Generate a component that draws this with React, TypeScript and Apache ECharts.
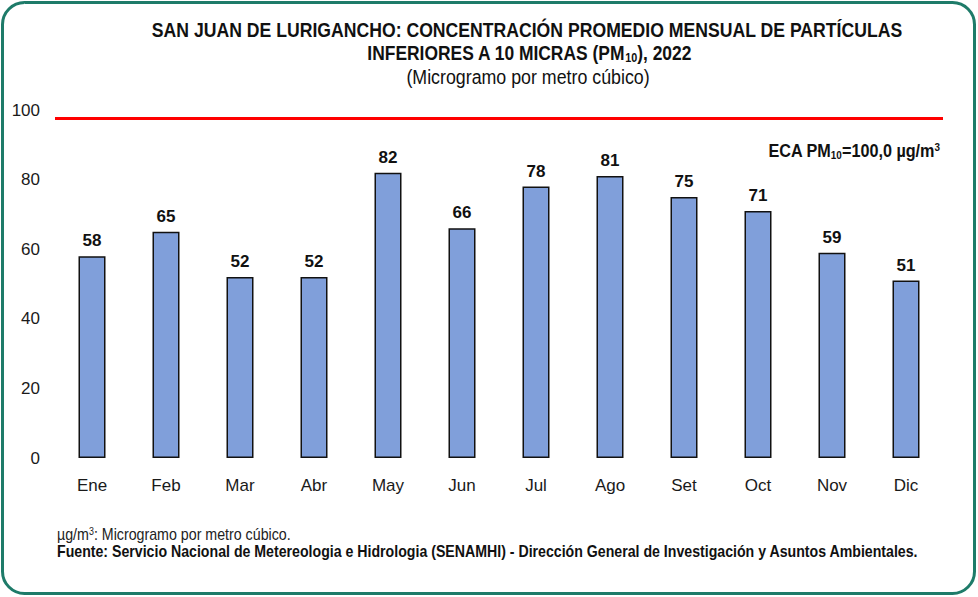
import React, { useEffect, useRef } from "react";
import * as echarts from "echarts";

const months = ["Ene", "Feb", "Mar", "Abr", "May", "Jun", "Jul", "Ago", "Set", "Oct", "Nov", "Dic"];
const pm10 = [58, 65, 52, 52, 82, 66, 78, 81, 75, 71, 59, 51];
const yTicks = [0, 20, 40, 60, 80, 100];
const ecaDrawnLevel = 97.6;

const ARIAL = "'Liberation Sans', Arial, sans-serif";

export default function App() {
  const ref = useRef<HTMLDivElement>(null);
  useEffect(() => {
    const chart = echarts.init(ref.current!, null, { renderer: "svg" });
    chart.setOption({
      animation: false,
      backgroundColor: "#ffffff",
      grid: { left: 55, right: 35, top: 110, bottom: 139 },
      xAxis: {
        type: "category",
        data: months,
        axisLine: { show: false },
        axisTick: { show: false },
        axisLabel: { color: "#1a1a1a", fontSize: 17, fontFamily: ARIAL, margin: 19 },
      },
      yAxis: {
        type: "value",
        min: yTicks[0],
        max: yTicks[yTicks.length - 1],
        interval: 20,
        axisLine: { show: false },
        axisTick: { show: false },
        splitLine: { show: false },
        axisLabel: { color: "#1a1a1a", fontSize: 17, fontFamily: ARIAL, margin: 15 },
      },
      graphic: [
        {
          type: "rect",
          z: -10,
          shape: { x: 2.5, y: 2.5, width: 972, height: 591, r: 22 },
          style: { fill: "#ffffff", stroke: "#1E7B69", lineWidth: 3 },
        },
        {
          type: "text",
          x: 527,
          y: 29,
          scaleX: 0.84,
          style: {
            text: "SAN JUAN DE LURIGANCHO: CONCENTRACIÓN PROMEDIO MENSUAL DE PARTÍCULAS",
            font: `bold 21px ${ARIAL}`,
            fill: "#111",
            textAlign: "center",
            textVerticalAlign: "middle",
          },
        },
        {
          type: "text",
          x: 529,
          y: 53,
          scaleX: 0.83,
          style: {
            text: "{a|INFERIORES A 10 MICRAS (PM}{s|10}{a|), 2022}",
            textAlign: "center",
            textVerticalAlign: "middle",
            rich: {
              a: { font: `bold 21px ${ARIAL}`, fill: "#111" },
              s: { font: `bold 13px ${ARIAL}`, fill: "#111", padding: [10, 0, 0, 0] },
            },
          },
        },
        {
          type: "text",
          x: 528,
          y: 77,
          scaleX: 0.89,
          style: {
            text: "(Microgramo por metro cúbico)",
            font: `20px ${ARIAL}`,
            fill: "#111",
            textAlign: "center",
            textVerticalAlign: "middle",
          },
        },
        {
          type: "text",
          x: 940,
          y: 151,
          scaleX: 0.9,
          style: {
            text: "{a|ECA PM}{s|10}{a|=100,0 µg/m}{p|3}",
            textAlign: "right",
            textVerticalAlign: "middle",
            rich: {
              a: { font: `bold 18px ${ARIAL}`, fill: "#111" },
              s: { font: `bold 11px ${ARIAL}`, fill: "#111", padding: [8, 0, 0, 0] },
              p: { font: `bold 11px ${ARIAL}`, fill: "#111", padding: [0, 0, 8, 0] },
            },
          },
        },
        {
          type: "text",
          x: 57,
          y: 534,
          scaleX: 0.89,
          style: {
            text: "{a|µg/m}{p|3}{a|: Microgramo por metro cúbico.}",
            textVerticalAlign: "middle",
            rich: {
              a: { font: `16px ${ARIAL}`, fill: "#222" },
              p: { font: `10px ${ARIAL}`, fill: "#222", padding: [0, 0, 6, 0] },
            },
          },
        },
        {
          type: "text",
          x: 57,
          y: 551,
          scaleX: 0.885,
          style: {
            text: "Fuente: Servicio Nacional de Metereologia e Hidrologia (SENAMHI) - Dirección General de Investigación y Asuntos Ambientales.",
            font: `bold 16px ${ARIAL}`,
            fill: "#111",
            textVerticalAlign: "middle",
          },
        },
      ],
      series: [
        {
          type: "bar",
          data: pm10,
          barWidth: 27,
          itemStyle: { color: "#809FDA", borderColor: "#111", borderWidth: 1.5 },
          label: {
            show: true,
            position: "top",
            distance: 7,
            color: "#111",
            fontSize: 17,
            fontWeight: "bold",
            fontFamily: ARIAL,
          },
          markLine: {
            silent: true,
            symbol: "none",
            label: { show: false },
            lineStyle: { color: "#FF0000", width: 3, type: "solid" },
            data: [{ yAxis: ecaDrawnLevel }],
          },
        },
      ],
    });
    return () => chart.dispose();
  }, []);
  return (
    <div
      ref={ref}
      style={{ position: "absolute", left: 0, top: 0, width: 978, height: 597 }}
    />
  );
}
